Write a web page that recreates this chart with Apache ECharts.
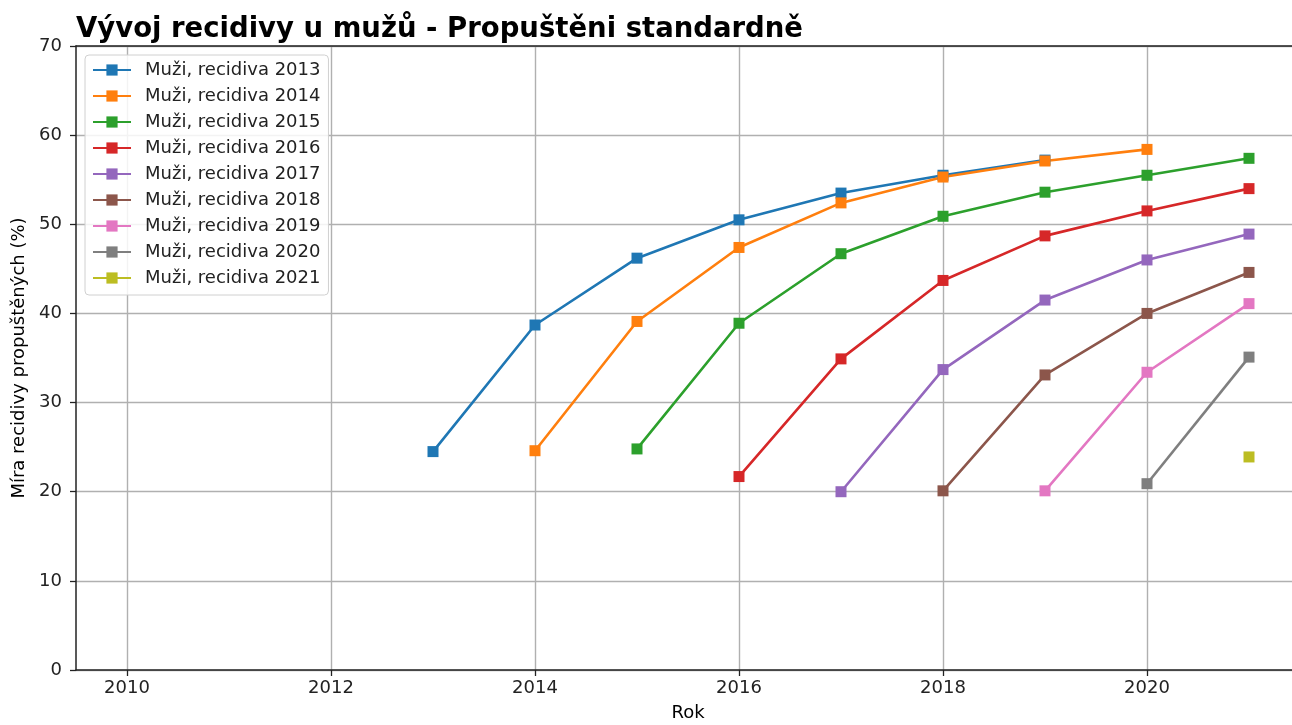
<!DOCTYPE html>
<html>
<head>
<meta charset="utf-8">
<script src="https://cdn.jsdelivr.net/npm/echarts@6/dist/echarts.min.js"></script>
<style>html,body{margin:0;padding:0;background:#fff;overflow:hidden}#c{width:1292px;height:725px}</style>
</head>
<body>
<div id="c"></div>
<script>
const years = [2013, 2014, 2015, 2016, 2017, 2018, 2019, 2020, 2021];
const s2013 = [24.5, 38.7, 46.2, 50.5, 53.5, 55.5, 57.2, null, null];
const s2014 = [null, 24.6, 39.1, 47.4, 52.4, 55.3, 57.1, 58.4, null];
const s2015 = [null, null, 24.8, 38.9, 46.7, 50.9, 53.6, 55.5, 57.4];
const s2016 = [null, null, null, 21.7, 34.9, 43.7, 48.7, 51.5, 54.0];
const s2017 = [null, null, null, null, 20.0, 33.7, 41.5, 46.0, 48.9];
const s2018 = [null, null, null, null, null, 20.1, 33.1, 40.0, 44.6];
const s2019 = [null, null, null, null, null, null, 20.1, 33.4, 41.1];
const s2020 = [null, null, null, null, null, null, null, 20.9, 35.1];
const s2021 = [null, null, null, null, null, null, null, null, 23.9];
const seriesNames = ['Muži, recidiva 2013','Muži, recidiva 2014','Muži, recidiva 2015','Muži, recidiva 2016','Muži, recidiva 2017','Muži, recidiva 2018','Muži, recidiva 2019','Muži, recidiva 2020','Muži, recidiva 2021'];
const seriesValues = [s2013, s2014, s2015, s2016, s2017, s2018, s2019, s2020, s2021];
const colors = ['#1f77b4','#ff7f0e','#2ca02c','#d62728','#9467bd','#8c564b','#e377c2','#7f7f7f','#bcbd22'];
const xTicks = [2010, 2012, 2014, 2016, 2018, 2020];

const font = 'DejaVu Sans';
const chart = echarts.init(document.getElementById('c'));
const series = seriesNames.map((name, i) => ({
  name: name,
  type: 'line',
  data: years.map((y, j) => [y, seriesValues[i][j]]).filter(d => d[1] !== null),
  symbol: 'rect',
  symbolSize: 11,
  lineStyle: { width: 2.6, color: colors[i] },
  itemStyle: { color: colors[i] },
  emphasis: { disabled: true },
  animation: false
}));

chart.setOption({
  animation: false,
  color: colors,
  title: {
    text: 'Vývoj recidivy u mužů - Propuštěni standardně',
    left: 71, top: 11,
    textStyle: { fontFamily: font, fontSize: 27.5, fontWeight: 'bold', color: '#000' }
  },
  legend: {
    orient: 'vertical',
    left: 85, top: 55,
    itemGap: 8,
    itemWidth: 38, itemHeight: 14,
    padding: [6, 8, 8, 7],
    backgroundColor: 'rgba(255,255,255,0.85)',
    borderColor: '#d0d0d0', borderWidth: 1, borderRadius: 4,
    textStyle: { fontFamily: font, fontSize: 18, lineHeight: 18, color: '#222', padding: [0, 0, 0, 9] },
    data: seriesNames
  },
  grid: {
    left: 76, width: 1224, top: 46, bottom: 55,
    outerBoundsMode: 'none',
    containLabel: false,
    show: false
  },
  xAxis: [{
    type: 'value',
    min: 2009.5, max: 2021.5,
    name: 'Rok', nameLocation: 'middle', nameGap: 34,
    nameTextStyle: { fontFamily: font, fontSize: 18, color: '#000' },
    axisLine: { show: true, lineStyle: { color: '#222', width: 1.5 } },
    axisTick: { show: true, length: 6, lineStyle: { color: '#222', width: 1.3 }, customValues: xTicks },
    axisLabel: { customValues: xTicks, fontFamily: font, fontSize: 18, color: '#222', margin: 9, formatter: v => String(v) },
    splitLine: { show: true, lineStyle: { color: '#b0b0b0', width: 1.4 } }
  }, {
    type: 'value',
    position: 'top',
    min: 2009.5, max: 2021.5,
    axisLine: { show: true, onZero: false, lineStyle: { color: '#222', width: 1.5 } },
    axisTick: { show: false },
    axisLabel: { show: false },
    splitLine: { show: false }
  }],
  yAxis: {
    type: 'value',
    min: 0, max: 70, interval: 10,
    name: 'Míra recidivy propuštěných (%)', nameLocation: 'middle', nameGap: 45,
    nameTextStyle: { fontFamily: font, fontSize: 18, color: '#000' },
    axisLine: { show: true, lineStyle: { color: '#222', width: 1.5 } },
    axisTick: { show: true, length: 6, lineStyle: { color: '#222', width: 1.3 } },
    axisLabel: { fontFamily: font, fontSize: 18, color: '#222', margin: 14 },
    splitLine: { show: true, lineStyle: { color: '#b0b0b0', width: 1.4 } }
  },
  series: series
});
</script>
</body>
</html>
